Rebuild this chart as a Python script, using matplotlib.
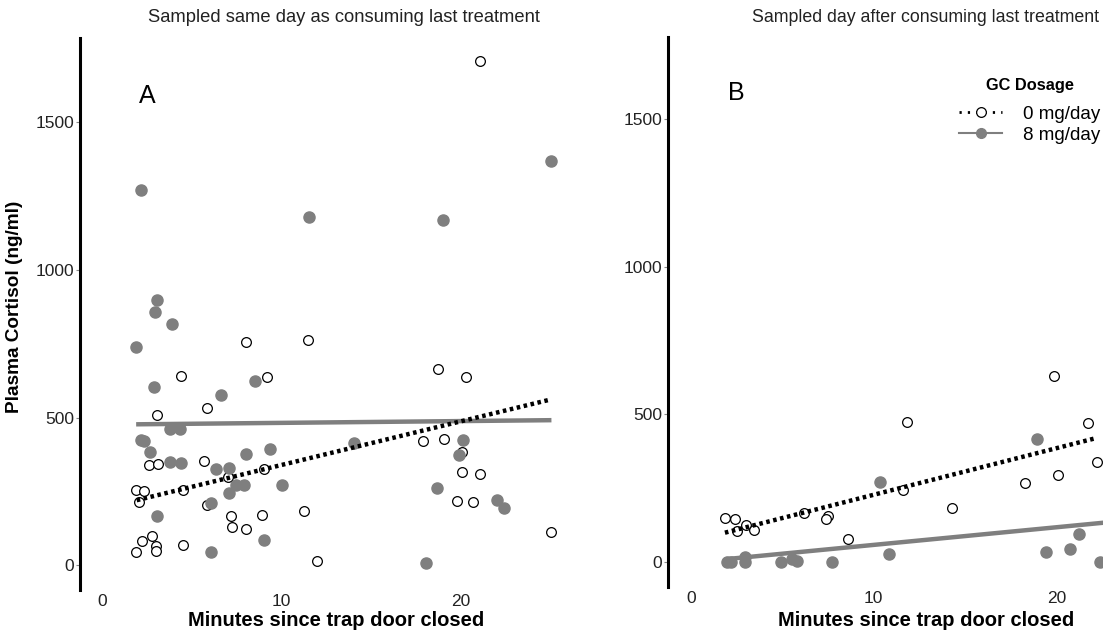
import matplotlib.pyplot as plt
from matplotlib.lines import Line2D

plt.rcParams['font.family'] = ['Liberation Sans', 'DejaVu Sans']

# Panel A: sampled same day as consuming last treatment
a0_x = [21.06, 8.04, 11.46, 4.38, 9.19, 5.85, 3.05, 2.64, 3.12, 5.70, 9.04, 7.00,
        1.88, 2.36, 4.53, 2.06, 5.83, 7.19, 8.90, 11.25, 7.26, 8.02, 2.21, 2.77,
        3.03, 3.03, 4.53, 1.89, 12.0, 18.72, 20.30, 17.90, 19.05, 20.07, 20.06,
        21.06, 19.76, 20.67, 25.05]
a0_y = [1707, 757, 764, 640, 637, 532, 508, 340, 342, 353, 324, 299,
        254, 252, 256, 214, 203, 166, 169, 183, 128, 121, 82, 99,
        64, 48, 70, 45, 15, 663, 637, 420, 427, 384, 315,
        309, 218, 213, 111]
a8_x = [2.17, 11.53, 25.05, 19.03, 3.05, 2.97, 3.88, 1.88, 8.54, 2.88, 6.63,
        3.79, 4.35, 2.17, 2.36, 2.69, 3.79, 4.38, 8.04, 9.36, 6.35, 7.06, 7.45,
        7.90, 10.05, 7.06, 6.07, 3.05, 9.04, 6.07, 14.04, 20.11, 19.87, 18.66,
        22.04, 22.38, 18.03]
a8_y = [1272, 1180, 1370, 1168, 897, 858, 816, 739, 625, 602, 576,
        460, 460, 423, 420, 382, 350, 345, 378, 393, 326, 330, 273,
        273, 273, 243, 211, 166, 85, 43, 414, 424, 372, 263,
        222, 195, 7]
a0_fit_x, a0_fit_y = [1.93, 24.87], [220, 559]
a8_fit_x, a8_fit_y = [1.90, 25.05], [477, 491]

# Panel B: sampled day after consuming last treatment
b0_x = [19.87, 11.84, 21.73, 22.19, 20.05, 18.28, 11.62, 14.26, 1.86, 2.44,
        3.02, 3.48, 2.53, 6.19, 7.49, 7.39, 8.58]
b0_y = [629, 473, 471, 340, 295, 267, 244, 182, 148, 144,
        126, 109, 103, 165, 157, 145, 77]
b8_x = [18.91, 10.34, 1.97, 2.19, 2.98, 2.98, 4.93, 5.52, 5.79, 7.74, 10.84,
        19.40, 20.73, 21.24, 22.37]
b8_y = [416, 272, 0, 0, 18, 0, 0, 10, 3, 0, 26,
        33, 44, 95, 0]
b0_fit_x, b0_fit_y = [1.87, 22.19], [99, 420]
b8_fit_x, b8_fit_y = [1.87, 22.6], [9, 133]

titles = ["Sampled same day as consuming last treatment",
          "Sampled day after consuming last treatment"]
panel_letters = ["A", "B"]
legend_labels = ["0 mg/day", "8 mg/day"]

grey = "#7f7f7f"
W, H = 1103, 630
fig = plt.figure(figsize=(11.03, 6.3), dpi=100)
ax_a = fig.add_axes([80 / W, 40 / H, 510 / W, 552 / H])
ax_b = fig.add_axes([668 / W, 43 / H, 435 / W, 550 / H])

panels = [
    (ax_a, a0_x, a0_y, a8_x, a8_y, a0_fit_x, a0_fit_y, a8_fit_x, a8_fit_y, (-1.23, 27.2), (-84, 1785)),
    (ax_b, b0_x, b0_y, b8_x, b8_y, b0_fit_x, b0_fit_y, b8_fit_x, b8_fit_y, (-1.24, 22.53), (-85, 1778)),
]
title_x = [344, 926]
title_size = [13.2, 12.8]
xlabel_x = [336, 926]

for i, (ax, x0, y0, x8, y8, fx0, fy0, fx8, fy8, xl, yl) in enumerate(panels):
    ax.plot(fx8, fy8, color=grey, lw=3.2, solid_capstyle="butt", zorder=2)
    ax.plot(fx0, fy0, color="black", lw=3.2, linestyle=(0, (0.8, 0.8)), zorder=4)
    ax.plot(x0, y0, "o", ms=7, mfc="white", mec="black", mew=0.9, zorder=3)
    ax.plot(x8, y8, "o", ms=8, mfc=grey, mec=grey, zorder=3)
    ax.set_xlim(*xl)
    ax.set_ylim(*yl)
    ax.set_xticks([0, 10, 20])
    ax.set_yticks([0, 500, 1000, 1500])
    for s in ["top", "right", "bottom"]:
        ax.spines[s].set_visible(False)
    ax.spines["left"].set_linewidth(2.2)
    ax.spines["left"].set_color("black")
    ax.tick_params(axis="y", length=3, width=0.8, color="#888888", labelsize=12.5, labelcolor="#222222", pad=1)
    ax.tick_params(axis="x", length=0, labelsize=12.5, labelcolor="#222222", pad=3)
    ax.text(2.5, 1590, panel_letters[i], fontsize=18, ha="center", va="center")
    ax.patch.set_visible(False)
    fig.text(xlabel_x[i] / W, 1 - 621 / H, "Minutes since trap door closed",
             fontsize=14.5, fontweight="bold", ha="center", va="center")
    fig.text(title_x[i] / W, 1 - 18 / H, titles[i], fontsize=title_size[i],
             ha="center", va="center", color="#222222")

fig.text(15 / W, 1 - 307 / H, "Plasma Cortisol (ng/ml)", fontsize=13.7,
         fontweight="bold", rotation=90, ha="center", va="center")

handles = [
    Line2D([], [], color="black", lw=2, linestyle=(0, (0.8, 2.2)), marker="o", ms=7, mfc="white", mec="black", mew=0.9),
    Line2D([], [], color=grey, lw=1.5, marker="o", ms=7, mfc=grey, mec=grey),
]
leg = fig.legend(handles, legend_labels, title="GC Dosage", loc="upper right",
                 bbox_to_anchor=(1100 / W, 1 - 78 / H), frameon=False, fontsize=13.5,
                 handlelength=2.3, handletextpad=1.1, labelspacing=0.22,
                 borderpad=0, borderaxespad=0)
leg.get_title().set_fontweight("bold")
leg.get_title().set_fontsize(11.8)
leg._legend_box.sep = 9

fig.savefig("out.png", dpi=100)
